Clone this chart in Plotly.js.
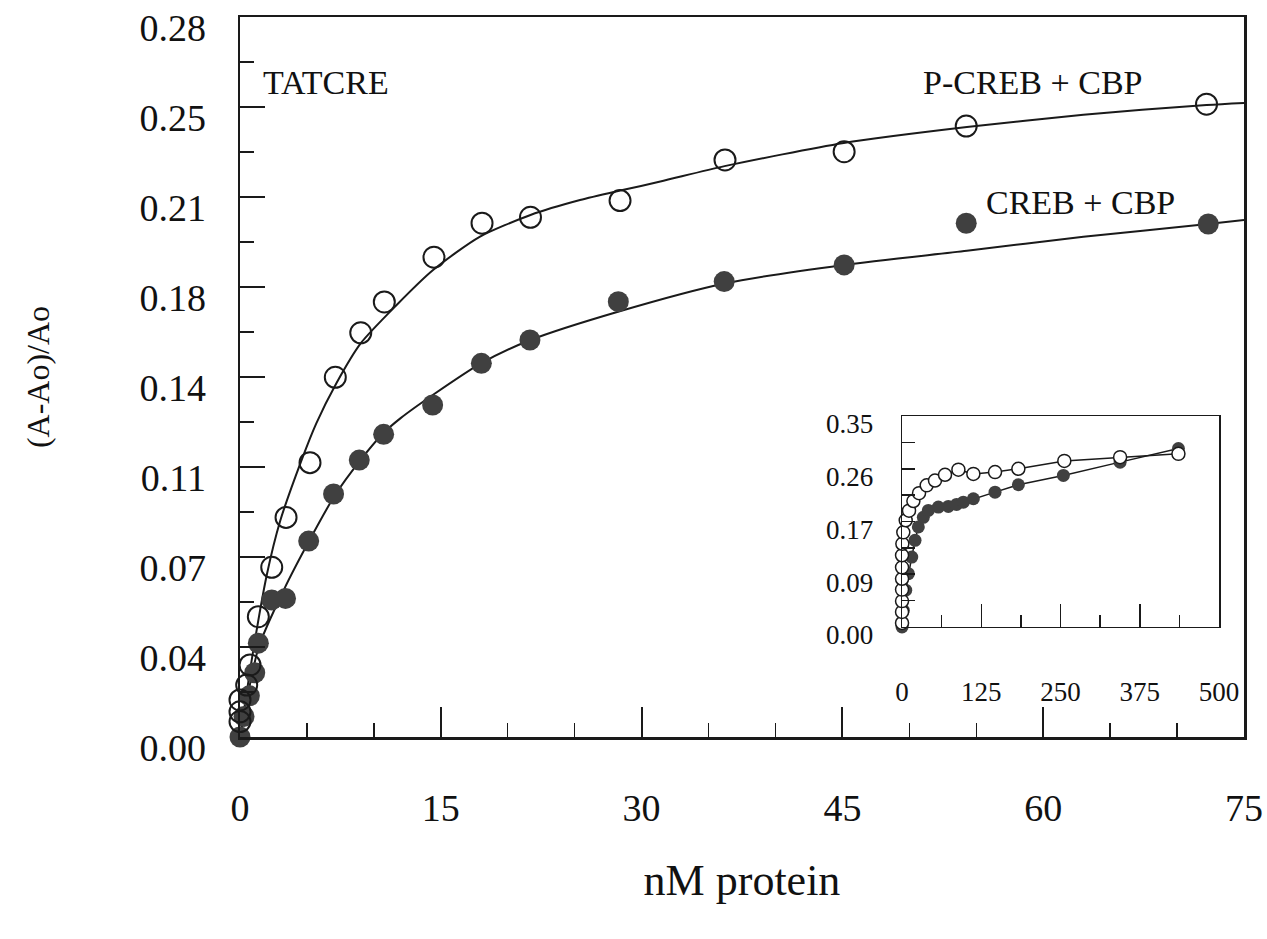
<!DOCTYPE html>
<html>
<head>
<meta charset="utf-8">
<script src="https://cdn.plot.ly/plotly-3.0.1.min.js"></script>
<style>html,body{margin:0;padding:0;background:#fff;}#chart{width:1267px;height:939px;}</style>
</head>
<body>
<div id="chart"></div>
<script>
// ---- Main panel data (nM protein vs (A-Ao)/Ao) ----
const openX   = [0, 0, 0, 0.5, 0.75, 1.37, 2.37, 3.44, 5.23, 7.12, 9.02, 10.78, 14.49, 18.08, 21.7, 28.39, 36.23, 45.13, 54.25, 72.2];
const openY   = [0.006, 0.0098, 0.0144, 0.0202, 0.028, 0.0468, 0.066, 0.0854, 0.1067, 0.1399, 0.1572, 0.1692, 0.1866, 0.1998, 0.2021, 0.2086, 0.2244, 0.2276, 0.2376, 0.2461];
const filledX = [0, 0.3, 0.7, 1.1, 1.37, 2.37, 3.4, 5.13, 6.99, 8.91, 10.73, 14.39, 18.03, 21.66, 28.26, 36.17, 45.13, 54.25, 72.33];
const filledY = [0.0, 0.008, 0.016, 0.025, 0.0365, 0.0533, 0.0539, 0.0762, 0.0945, 0.1077, 0.1177, 0.1291, 0.1453, 0.1544, 0.1693, 0.1771, 0.1836, 0.1998, 0.1995];

// fitted curves
const openFitX = [0, 1, 2, 3, 4.6, 5.7, 7.2, 9, 11.7, 14.4, 17.9, 21.7, 25.4, 28.4, 31.4, 36.2, 45.1, 54.3, 63, 72.2, 75];
const openFitY = [0, 0.034, 0.063, 0.084, 0.1077, 0.122, 0.1376, 0.1530, 0.1680, 0.1815, 0.1945, 0.2030, 0.2088, 0.2125, 0.2160, 0.2220, 0.2310, 0.2372, 0.2420, 0.2458, 0.2466];
const filledFitX = [0, 1.4, 3.3, 5.2, 7.1, 9.0, 10.7, 12.0, 14.4, 18.0, 21.7, 28.3, 36.2, 45.1, 54.3, 63, 72.3, 75];
const filledFitY = [0, 0.035, 0.0575, 0.0766, 0.0941, 0.1077, 0.1181, 0.1240, 0.1330, 0.1453, 0.1544, 0.1655, 0.1764, 0.1836, 0.1891, 0.1945, 0.1995, 0.2011];

// ---- Inset data ----
const insetOpenX = [0, 0, 0, 0, 0, 0, 0, 0.5, 2, 5.8, 11, 17.9, 26.8, 38.9, 52, 67.8, 88.9, 112.5, 146.7, 183.5, 256, 344, 436];
const insetOpenY = [0.0067, 0.025, 0.043, 0.062, 0.080, 0.099, 0.119, 0.138, 0.157, 0.177, 0.193, 0.209, 0.222, 0.235, 0.243, 0.2525, 0.261, 0.254, 0.257, 0.2625, 0.2755, 0.2818, 0.2873];
const insetFilledX = [0, 2, 5.8, 10, 15.3, 20.5, 25.7, 33.6, 41.5, 57.3, 73, 86, 96.7, 112.5, 146.7, 183.5, 254.5, 344, 436];
const insetFilledY = [0, 0.0277, 0.061, 0.0885, 0.116, 0.1437, 0.166, 0.182, 0.1934, 0.199, 0.200, 0.2033, 0.207, 0.2128, 0.2237, 0.236, 0.2514, 0.2735, 0.296];

// ---- Tick labels ----
const xTickVals = [0, 15, 30, 45, 60, 75];
const yTickVals = [0, 0.035, 0.07, 0.105, 0.14, 0.175, 0.21, 0.245, 0.28];
const yTickText = ['0.00', '0.04', '0.07', '0.11', '0.14', '0.18', '0.21', '0.25', '0.28'];
const insetXTickVals = [0, 125, 250, 375, 500];
const insetYTickVals = [0, 0.0875, 0.175, 0.2625, 0.35];
const insetYTickText = ['0.00', '0.09', '0.17', '0.26', '0.35'];

const FONT = 'Liberation Serif, Times New Roman, serif';
const INK = '#1a1a1a';
const DARK = '#404040';

const traces = [
  {x: openFitX, y: openFitY, mode: 'lines', line: {color: INK, width: 2, shape: 'spline', smoothing: 0.7}, hoverinfo: 'skip', showlegend: false},
  {x: filledFitX, y: filledFitY, mode: 'lines', line: {color: INK, width: 2, shape: 'spline', smoothing: 0.7}, hoverinfo: 'skip', showlegend: false},
  {x: filledX, y: filledY, mode: 'markers', name: 'CREB + CBP', cliponaxis: false,
   marker: {symbol: 'circle', size: 21, color: DARK, line: {width: 0}}},
  {x: openX, y: openY, mode: 'markers', name: 'P-CREB + CBP', cliponaxis: false,
   marker: {symbol: 'circle-open', size: 21, color: INK, line: {width: 2, color: INK}}},
  {x: insetFilledX, y: insetFilledY, xaxis: 'x2', yaxis: 'y2', mode: 'lines+markers', cliponaxis: false,
   line: {color: INK, width: 1.5}, marker: {symbol: 'circle', size: 13, color: DARK}},
  {x: insetOpenX, y: insetOpenY, xaxis: 'x2', yaxis: 'y2', mode: 'lines+markers', cliponaxis: false,
   line: {color: INK, width: 1.5}, marker: {symbol: 'circle', size: 13, color: '#ffffff', line: {width: 1.5, color: INK}}}
];

const layout = {
  width: 1267, height: 939,
  margin: {l: 240, r: 23, t: 17, b: 202},
  paper_bgcolor: '#ffffff', plot_bgcolor: '#ffffff',
  showlegend: false,
  font: {family: FONT, color: '#111'},
  xaxis: {
    range: [0, 75], tickvals: xTickVals, ticks: 'inside', ticklen: 30, tickwidth: 2, tickcolor: INK,
    showline: true, linewidth: 2.5, linecolor: INK, mirror: true, showgrid: false, zeroline: false,
    minor: {tick0: 0, dtick: 5, ticks: 'inside', ticklen: 14, tickwidth: 1.5, tickcolor: INK, showgrid: false},
    tickfont: {family: FONT, size: 38, color: '#111'}, ticklabelstandoff: 36, automargin: false,
    title: {text: 'nM protein', font: {family: FONT, size: 44, color: '#111'}, standoff: 36}
  },
  yaxis: {
    range: [0, 0.28], tickvals: yTickVals, ticktext: yTickText, ticks: 'inside', ticklen: 25, tickwidth: 2, tickcolor: INK,
    showline: true, linewidth: 2.5, linecolor: INK, mirror: true, showgrid: false, zeroline: false,
    minor: {tick0: 0, dtick: 0.0175, ticks: 'inside', ticklen: 14, tickwidth: 1.5, tickcolor: INK, showgrid: false},
    tickfont: {family: FONT, size: 38, color: '#111'}, ticklabelstandoff: 24, ticklabelshift: 11, automargin: false,
    title: {text: '(A-Ao)/Ao', font: {family: FONT, size: 32, color: '#111'}, standoff: 80}
  },
  xaxis2: {
    domain: [0.6594, 0.9751], anchor: 'y2', range: [0, 500], tickvals: insetXTickVals,
    ticks: 'inside', ticklen: 23, tickwidth: 1.5, tickcolor: INK,
    showline: true, linewidth: 1.5, linecolor: INK, mirror: true, showgrid: false, zeroline: false,
    minor: {tick0: 0, dtick: 62.5, ticks: 'inside', ticklen: 12, tickwidth: 1.5, tickcolor: INK, showgrid: false},
    tickfont: {family: FONT, size: 27, color: '#111'}, ticklabelstandoff: 40, automargin: false
  },
  yaxis2: {
    domain: [0.1528, 0.4458], anchor: 'x2', range: [0, 0.35], tickvals: insetYTickVals, ticktext: insetYTickText,
    ticks: 'inside', ticklen: 13, tickwidth: 1.5, tickcolor: INK,
    showline: true, linewidth: 1.5, linecolor: INK, mirror: true, showgrid: false, zeroline: false,
    minor: {tick0: 0, dtick: 0.04375, ticks: 'inside', ticklen: 13, tickwidth: 1.5, tickcolor: INK, showgrid: false},
    tickfont: {family: FONT, size: 27, color: '#111'}, ticklabelstandoff: 22, ticklabelshift: 8, automargin: false
  },
  annotations: [
    {text: 'TATCRE', xref: 'paper', yref: 'paper', x: 0.021, y: 0.9097, xanchor: 'left', yanchor: 'middle', showarrow: false,
     font: {family: FONT, size: 34, color: '#111'}},
    {text: 'P-CREB + CBP', xref: 'paper', yref: 'paper', x: 0.678, y: 0.9097, xanchor: 'left', yanchor: 'middle', showarrow: false,
     font: {family: FONT, size: 34, color: '#111'}},
    {text: 'CREB + CBP', xref: 'paper', yref: 'paper', x: 0.741, y: 0.743, xanchor: 'left', yanchor: 'middle', showarrow: false,
     font: {family: FONT, size: 34, color: '#111'}}
  ]
};

Plotly.newPlot('chart', traces, layout, {staticPlot: true, displayModeBar: false});
</script>
</body>
</html>
